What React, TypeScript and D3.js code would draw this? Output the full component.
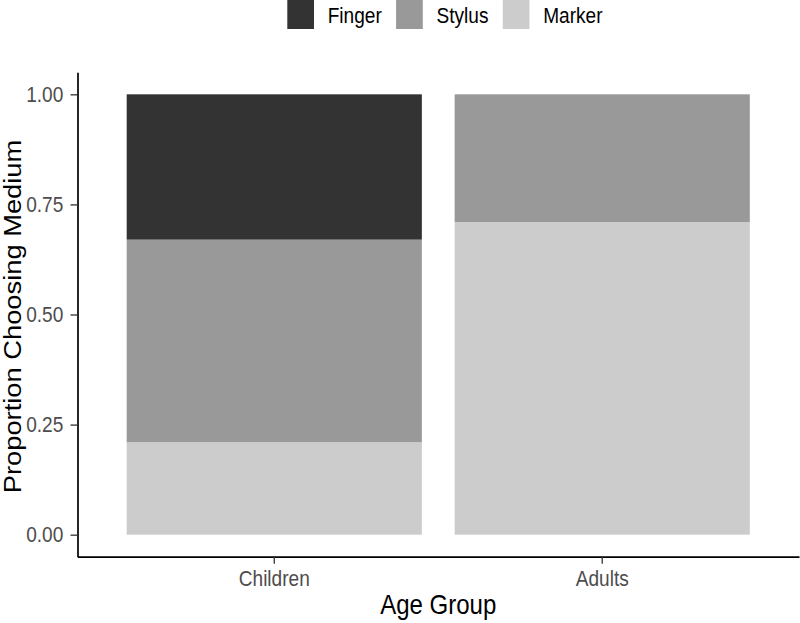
import React, { useEffect, useRef } from "react";
import * as d3 from "d3";

const groups = ["Children", "Adults"];
const media = ["Finger", "Stylus", "Marker"];
const fingerVals = [0.33, 0.0];
const stylusVals = [0.46, 0.29];
const markerVals = [0.21, 0.71];
const mediaColors = ["#333333", "#999999", "#CCCCCC"];
const yTicks = [0, 0.25, 0.5, 0.75, 1];
const xTitle = "Age Group";
const yTitle = "Proportion Choosing Medium";

export default function App() {
  const ref = useRef<SVGSVGElement>(null);

  useEffect(() => {
    const svg = d3.select(ref.current);
    svg.selectAll("*").remove();
    const left = 77.5, right = 799, top = 72.3, bottom = 556.7;
    const sx = 0.88;
    const font = "'Liberation Sans', Arial, Helvetica, sans-serif";
    const tickFs = 21.7;
    const titleFs = 27.3;

    const rows = groups.map((g, i) => ({
      group: g,
      Finger: fingerVals[i],
      Stylus: stylusVals[i],
      Marker: markerVals[i],
    }));
    const color = d3.scaleOrdinal<string, string>().domain(media).range(mediaColors);

    const x = d3.scaleBand<string>().domain(groups).range([left, right]).paddingInner(0.1).paddingOuter(0.15);
    const y = d3.scaleLinear().domain([-0.05, 1.05]).range([bottom, top]);

    const stack = d3.stack<any>().keys(["Marker", "Stylus", "Finger"]);
    const series = stack(rows);

    const bars = svg.append("g");
    series.forEach((s) => {
      bars
        .selectAll(null)
        .data(s)
        .enter()
        .append("rect")
        .attr("x", (d: any) => x(d.data.group)!)
        .attr("width", x.bandwidth())
        .attr("y", (d: any) => y(d[1]))
        .attr("height", (d: any) => Math.max(0, y(d[0]) - y(d[1])))
        .attr("fill", color(s.key));
    });

    // Y axis
    const yAxis = svg
      .append("g")
      .attr("transform", `translate(${left},0)`)
      .call(
        d3.axisLeft(y).tickValues(yTicks).tickFormat(d3.format(".2f")).tickSize(7).tickSizeOuter(0).tickPadding(7)
      );
    yAxis.select(".domain").attr("stroke", "#000").attr("stroke-width", 1.7);
    yAxis.selectAll(".tick line").attr("stroke", "#333").attr("stroke-width", 1.3);
    yAxis
      .selectAll(".tick text")
      .attr("font-family", font)
      .attr("font-size", tickFs)
      .attr("fill", "#4D4D4D")
      .attr("x", -14.2 / sx)
      .attr("transform", `scale(${sx},1)`);

    // X axis
    const xAxis = svg
      .append("g")
      .attr("transform", `translate(0,${bottom})`)
      .call(d3.axisBottom(x).tickSize(7).tickSizeOuter(0).tickPadding(7));
    xAxis.select(".domain").attr("stroke", "#000").attr("stroke-width", 1.7);
    xAxis.selectAll(".tick line").attr("stroke", "#333").attr("stroke-width", 1.3);
    xAxis
      .selectAll(".tick text")
      .attr("font-family", font)
      .attr("font-size", tickFs)
      .attr("fill", "#4D4D4D")
      .attr("transform", `scale(${sx},1)`);

    // Titles
    svg
      .append("text")
      .attr("transform", `translate(${(left + right) / 2},614) scale(${sx},1)`)
      .attr("text-anchor", "middle")
      .attr("font-family", font)
      .attr("font-size", titleFs)
      .attr("fill", "#000")
      .text(xTitle);
    svg
      .append("text")
      .attr("transform", `translate(20.5,316.5) scale(${sx},1) rotate(-90)`)
      .attr("text-anchor", "middle")
      .attr("font-family", font)
      .attr("font-size", titleFs)
      .attr("fill", "#000")
      .text(yTitle);

    // Legend
    const lg = svg.append("g");
    let cx = 287.3;
    const keyW = 26.7, keyH = 29;
    media.forEach((m) => {
      lg.append("rect")
        .attr("x", cx)
        .attr("y", 0)
        .attr("width", keyW)
        .attr("height", keyH)
        .attr("fill", color(m));
      const tx = cx + keyW + 13.7;
      const t = lg
        .append("text")
        .attr("transform", `translate(${tx},22.7) scale(${sx},1)`)
        .attr("font-family", font)
        .attr("font-size", tickFs)
        .attr("fill", "#000")
        .text(m);
      const w = (t.node() as SVGTextElement).getComputedTextLength() * sx;
      cx = tx + w + 14.3;
    });
  }, []);

  return (
    <svg
      ref={ref}
      width={800}
      height={623}
      style={{ position: "absolute", left: 0, top: 0, background: "#fff" }}
    />
  );
}
